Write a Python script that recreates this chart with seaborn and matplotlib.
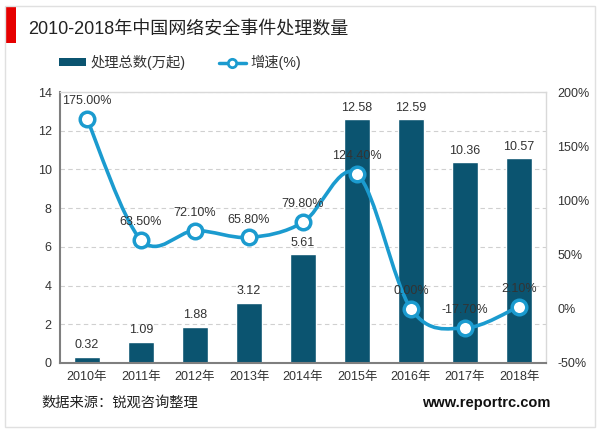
import numpy as np
import matplotlib
matplotlib.use('Agg')
import matplotlib.pyplot as plt
import seaborn as sns
from matplotlib.path import Path
from matplotlib.patches import PathPatch, Patch, Rectangle
from matplotlib.lines import Line2D

years = ['2010年', '2011年', '2012年', '2013年', '2014年', '2015年', '2016年', '2017年', '2018年']
counts = [0.32, 1.09, 1.88, 3.12, 5.61, 12.58, 12.59, 10.36, 10.57]
growth = [175.0, 63.5, 72.1, 65.8, 79.8, 124.4, 0.0, -17.7, 2.1]

bar_color = '#0b5470'
line_color = '#1b9bcf'
text_color = '#333333'

sns.set_style('white')
plt.rcParams['font.family'] = ['Liberation Sans', 'Noto Sans CJK SC']

fig = plt.figure(figsize=(6, 4.33), dpi=100)
ax = fig.add_axes([0.1, 0.1617, 0.81, 0.6258])

# bars
sns.barplot(x=years, y=counts, color=bar_color, saturation=1, width=0.48, ax=ax, zorder=2)
ax.bar_label(ax.containers[0], labels=[f'{v:.2f}' for v in counts], padding=4,
             fontsize=9, color=text_color)
ax.set_ylim(0, 14)
ax.set_yticks(range(0, 15, 2))
ax.set_xlim(-0.5, len(years) - 0.5)
ax.set_xlabel('')
ax.set_ylabel('')
ax.yaxis.grid(True, linestyle=(0, (4, 3)), color='#d0d0d0', linewidth=0.8, zorder=0)
ax.set_axisbelow(True)
ax.tick_params(length=0, labelsize=9, labelcolor=text_color, pad=6)
for s in ['left', 'bottom']:
    ax.spines[s].set_color('#7f7f7f')
    ax.spines[s].set_linewidth(1.5)
for s in ['top', 'right']:
    ax.spines[s].set_color('#d9d9d9')
    ax.spines[s].set_linewidth(1.0)

# growth line on secondary axis, smoothed with bezier segments through the points
ax2 = ax.twinx()
ax2.set_ylim(-50, 200)
ax2.set_yticks(range(-50, 201, 50))
ax2.set_yticklabels([f'{v}%' for v in range(-50, 201, 50)])
ax2.tick_params(length=0, labelsize=9, labelcolor=text_color, pad=8)
for s in ax2.spines.values():
    s.set_visible(False)

xs = np.arange(len(growth), dtype=float)
pts = np.column_stack([xs, growth])
verts = [pts[0]]
codes = [Path.MOVETO]
for i in range(len(pts) - 1):
    p_prev = pts[i - 1] if i > 0 else pts[i]
    p_next2 = pts[i + 2] if i + 2 < len(pts) else pts[i + 1]
    c1 = pts[i] + (pts[i + 1] - p_prev) / 6
    c2 = pts[i + 1] - (p_next2 - pts[i]) / 6
    verts += [c1, c2, pts[i + 1]]
    codes += [Path.CURVE4] * 3
ax2.add_patch(PathPatch(Path(verts, codes), fill=False, edgecolor=line_color, lw=2.6, zorder=3))
sns.scatterplot(x=xs, y=growth, ax=ax2, s=110, color='white', edgecolor=line_color,
                linewidth=2.5, zorder=4)
for x, g in zip(xs, growth):
    ax2.annotate(f'{g:.2f}%', (x, g), xytext=(0, 8.5), textcoords='offset points',
                 ha='center', va='bottom', fontsize=9, color=text_color, zorder=5)

# legend
handles = [Patch(facecolor=bar_color, edgecolor='none'),
           Line2D([0], [0], color=line_color, lw=2.5, marker='o', markersize=6,
                  markerfacecolor='white', markeredgecolor=line_color, markeredgewidth=2)]
fig.legend(handles, ['处理总数(万起)', '增速(%)'], loc='center left', bbox_to_anchor=(0.077, 0.855),
           ncol=2, frameon=False, fontsize=10.3, handlelength=1.9, handleheight=0.5,
           handletextpad=0.3, columnspacing=2.3, labelcolor=text_color)

# title, side mark, footer, frame
fig.text(0.047, 0.93, '2010-2018年中国网络安全事件处理数量', fontsize=13, color='#222222', va='center')
fig.patches.append(Rectangle((0.008, 0.9007), 0.018, 0.083, transform=fig.transFigure,
                             facecolor='#e60000', edgecolor='none'))
fig.patches.append(Rectangle((0.008, 0.014), 0.984, 0.972, transform=fig.transFigure,
                             facecolor='none', edgecolor='#e0e0e0', lw=1))
fig.text(0.069, 0.07, '数据来源：锐观咨询整理', fontsize=10.3, color='#222222', va='center')
fig.text(0.918, 0.07, 'www.reportrc.com', fontsize=10.5, fontweight='bold', color='#111111',
         ha='right', va='center')

fig.savefig('out.png', dpi=100)
